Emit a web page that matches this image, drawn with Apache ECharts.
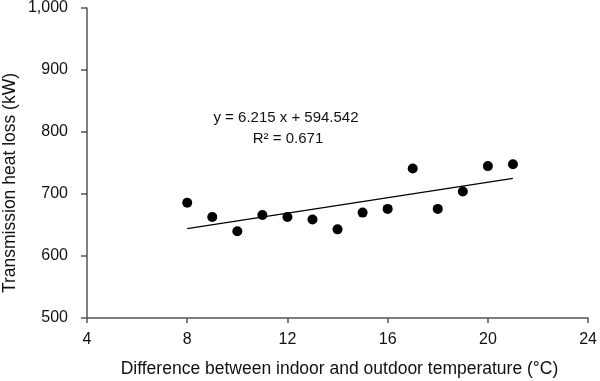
<!DOCTYPE html>
<html>
<head>
<meta charset="utf-8">
<script src="https://cdn.jsdelivr.net/npm/echarts@6/dist/echarts.min.js"></script>
<style>html,body{margin:0;padding:0;background:#fff}#c{width:600px;height:381px}</style>
</head>
<body>
<div id="c"></div>
<script>
var tempDiff = [8, 9, 10, 11, 12, 13, 14, 15, 16, 17, 18, 19, 20, 21];
var heatLoss = [686, 663, 640, 666, 663, 659, 643, 670, 676, 741, 676, 704, 745, 748];
var trendX = [8, 21];
var trendY = [644.3, 725.1];
var equationText = 'y = 6.215 x + 594.542';
var r2Text = 'R\u00B2 = 0.671';
var xTitle = 'Difference between indoor and outdoor temperature (\u00B0C)';
var yTitle = 'Transmission heat loss (kW)';

var font = '"Liberation Sans", Arial, sans-serif';
var axisColor = '#555';
var chart = echarts.init(document.getElementById('c'), null, {renderer: 'canvas'});
chart.setOption({
  animation: false,
  backgroundColor: '#fff',
  grid: {left: 87, right: 8, top: 7.5, bottom: 63, containLabel: false},
  xAxis: {
    type: 'value', min: 4, max: 24, interval: 4,
    axisLine: {show: true, lineStyle: {color: axisColor, width: 1.5}},
    axisTick: {show: true, inside: false, length: 5, lineStyle: {color: axisColor, width: 1.5}},
    axisLabel: {color: '#111', fontSize: 16, fontFamily: font, margin: 14},
    splitLine: {show: false}
  },
  yAxis: {
    type: 'value', min: 500, max: 1000, interval: 100,
    axisLine: {show: true, lineStyle: {color: axisColor, width: 1.5}},
    axisTick: {show: true, inside: false, length: 6, lineStyle: {color: axisColor, width: 1.5}},
    axisLabel: {color: '#111', fontSize: 16, fontFamily: font, margin: 19,
      formatter: function (v) { return v.toLocaleString('en-US'); }},
    splitLine: {show: false}
  },
  series: [
    {
      type: 'line',
      data: trendX.map(function (x, i) { return [x, trendY[i]]; }),
      symbol: 'none',
      lineStyle: {color: '#000', width: 1.2},
      z: 1
    },
    {
      type: 'scatter',
      data: tempDiff.map(function (x, i) { return [x, heatLoss[i]]; }),
      symbol: 'circle',
      symbolSize: 10,
      itemStyle: {color: '#000', opacity: 1},
      z: 2
    }
  ],
  graphic: [
    {type: 'text', x: 286, y: 118, style: {text: equationText, fill: '#111', font: '15px ' + font, textAlign: 'center', textVerticalAlign: 'middle'}},
    {type: 'text', x: 288, y: 139, style: {text: r2Text, fill: '#111', font: '15px ' + font, textAlign: 'center', textVerticalAlign: 'middle'}},
    {type: 'text', x: 339.5, y: 369, style: {text: xTitle, fill: '#111', font: '17.5px ' + font, textAlign: 'center', textVerticalAlign: 'middle'}},
    {type: 'text', x: 10, y: 183, rotation: Math.PI / 2, style: {text: yTitle, fill: '#111', font: '17.5px ' + font, textAlign: 'center', textVerticalAlign: 'middle'}}
  ]
});
</script>
</body>
</html>
